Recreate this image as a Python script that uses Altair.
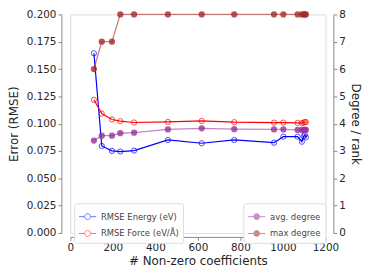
import altair as alt
import pandas as pd

# ---- data ----
coeffs = [111, 148, 196, 235, 300, 459, 618, 771, 958, 1002, 1069, 1089, 1098, 1103, 1108]
rmse_energy = [0.1644, 0.0796, 0.0751, 0.0745, 0.0754, 0.0851, 0.0821, 0.0851, 0.0826,
               0.0881, 0.0881, 0.0835, 0.0885, 0.0895, 0.0875]
rmse_force = [0.1219, 0.1092, 0.1038, 0.1023, 0.1011, 0.1016, 0.1025, 0.1014, 0.1010,
              0.1010, 0.1007, 0.1005, 0.1010, 0.1015, 0.1015]
avg_degree = [3.38, 3.56, 3.56, 3.65, 3.67, 3.79, 3.83, 3.80, 3.79, 3.79, 3.77, 3.77, 3.77, 3.77, 3.77]
max_degree = [6, 7, 7, 8, 8, 8, 8, 8, 8, 8, 8, 8, 8, 8, 8]

err_names = ["RMSE Energy (eV)", "RMSE Force (eV/Å)"]
err_colors = ["#0000ff", "#ff0000"]
deg_names = ["avg. degree", "max degree"]
deg_colors = ["#993399", "#a52a2a"]

x_ticks = [0, 200, 400, 600, 800, 1000, 1200]
y_ticks = [0, 0.025, 0.05, 0.075, 0.1, 0.125, 0.15, 0.175, 0.2]
deg_ticks = [0, 1, 2, 3, 4, 5, 6, 7, 8]

err_df = pd.DataFrame({
    "x": coeffs * 2,
    "v": rmse_energy + rmse_force,
    "s": [err_names[0]] * len(coeffs) + [err_names[1]] * len(coeffs),
})
deg_df = pd.DataFrame({
    "x": coeffs * 2,
    "v": avg_degree + max_degree,
    "s": [deg_names[0]] * len(coeffs) + [deg_names[1]] * len(coeffs),
})

FONT = "DejaVu Sans"
SPINE = "#8a8a8a"
LAB = "#262626"

sym_path = "M-1,0L-0.34,0M0.34,0L1,0M0.34,0A0.34,0.34,0,1,1,-0.34,0A0.34,0.34,0,1,1,0.34,0Z"

xenc = alt.X("x:Q", scale=alt.Scale(domain=[0, 1200], nice=False, zero=False),
             axis=alt.Axis(values=x_ticks, format="d", offset=4, title="# Non-zero coefficients",
                           titleFontSize=12, labelFontSize=10.5, tickSize=3.5,
                           labelOverlap=False, labelFlush=False,
                           domainColor=SPINE, tickColor=SPINE, labelColor=LAB, titleColor=LAB,
                           titleFontWeight="normal", titlePadding=3, labelPadding=2,
                           grid=False, labelFont=FONT, titleFont=FONT))

yerr = alt.Y("v:Q", scale=alt.Scale(domain=[0, 0.2], nice=False),
             axis=alt.Axis(values=y_ticks, format=".3f", offset=9, title="Error (RMSE)",
                           titleFontSize=12, labelFontSize=10.5, tickSize=3.5,
                           labelOverlap=False, labelFlush=False,
                           domainColor=SPINE, tickColor=SPINE, labelColor=LAB, titleColor=LAB,
                           titleFontWeight="normal", titlePadding=6, labelPadding=2,
                           grid=False, labelFont=FONT, titleFont=FONT))

ydeg = alt.Y("v:Q", scale=alt.Scale(domain=[0, 8], nice=False),
             axis=alt.Axis(values=deg_ticks, orient="right", offset=8, title="Degree / rank",
                           titleFontSize=12, labelFontSize=10.5, tickSize=3.5,
                           labelOverlap=False, labelFlush=False,
                           domainColor=SPINE, tickColor=SPINE, labelColor=LAB, titleColor=LAB,
                           titleFontWeight="normal", titlePadding=3, labelPadding=2,
                           grid=False, labelFont=FONT, titleFont=FONT))

err_color = alt.Color("s:N", scale=alt.Scale(domain=err_names, range=err_colors),
                      legend=alt.Legend(title=None, orient="none", legendX=4, legendY=191,
                                        symbolType=sym_path, symbolSize=300, symbolStrokeWidth=1,
                                        symbolOpacity=0.55, labelFontSize=8.5, labelFont=FONT,
                                        labelColor="#444444", rowPadding=2, padding=4,
                                        strokeColor="#dddddd", fillColor="white",
                                        cornerRadius=2, labelOffset=4))
deg_color = alt.Color("s:N", scale=alt.Scale(domain=deg_names, range=deg_colors),
                      legend=alt.Legend(title=None, orient="none", legendX=175, legendY=191,
                                        symbolType=sym_path, symbolSize=300, symbolStrokeWidth=1,
                                        symbolOpacity=0.55, labelFontSize=8.5, labelFont=FONT,
                                        labelColor="#444444", rowPadding=2, padding=4,
                                        strokeColor="#dddddd", fillColor="white",
                                        cornerRadius=2, labelOffset=4))

err_base = alt.Chart(err_df).encode(x=xenc, y=yerr, color=err_color, detail="s:N")
err_layer = alt.layer(
    err_base.mark_line(strokeWidth=1.2),
    err_base.mark_point(filled=False, size=28, strokeWidth=1),
)

deg_base = alt.Chart(deg_df).encode(x=xenc, y=ydeg, color=deg_color, detail="s:N")
deg_layer = alt.layer(
    deg_base.mark_line(strokeWidth=1.3, opacity=0.6),
    deg_base.mark_point(filled=True, size=40, opacity=0.8),
)

chart = alt.layer(err_layer, deg_layer).resolve_scale(
    y="independent", color="independent"
).properties(
    width=258, height=221,
    autosize=alt.AutoSizeParams(type="none"),
    padding={"left": 63, "top": 5, "right": 41, "bottom": 38},
).configure_view(stroke=None).configure(font=FONT)

chart.save("out.html", embed_options={"renderer": "svg", "actions": False})
